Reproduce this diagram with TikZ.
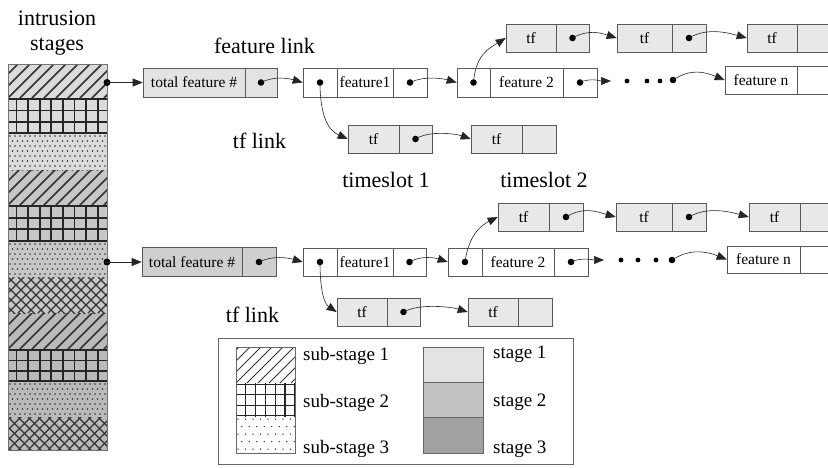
\documentclass[tikz,border=0pt]{standalone}
\usepackage{fontspec}
\setmainfont{Liberation Serif}
\usetikzlibrary{arrows.meta}

% diagonal "/" hatching inside a rectangle: x1,y1,x2,y2,line width,spacing
\newcommand\hatchband[6]{%
  \begin{scope}
    \clip (#1,#2) rectangle (#3,#4);
    \foreach \k in {-6,...,12}{\draw[line width=#5, black!80] ({#1+\k*#6},#4) -- ++(60,-60);}
  \end{scope}}
% diamond cross-hatching: x1,y1,x2,y2
\newcommand\crossband[4]{%
  \begin{scope}
    \clip (#1,#2) rectangle (#3,#4);
    \foreach \k in {-6,...,14}{%
      \draw[line width=1.4pt, black!80] ({#1+\k*10},#4) -- ++(50,-50);
      \draw[line width=1.4pt, black!80] ({#1+\k*10-50},#2) -- ++(50,50);}
  \end{scope}}
% square grid: x1,y1,x2,y2,first vertical x,vertical step,line width
\newcommand\gridband[7]{%
  \begin{scope}
    \clip (#1,#2) rectangle (#3,#4);
    \foreach \k in {0,...,9}{\draw[line width=#7, black!85] ({#5+\k*#6},#2) -- ({#5+\k*#6},#4);}
    \foreach \k in {0,...,3}{\draw[line width=#7, black!85] (#1,{#2+1.2+\k*(#4-#2-2.4)/3}) -- (#3,{#2+1.2+\k*(#4-#2-2.4)/3});}
  \end{scope}}
% dot screen: x1,y1,x2,y2,step,dot radius
\newcommand\dotband[6]{%
  \begin{scope}
    \clip (#1,#2) rectangle (#3,#4);
    \foreach \i in {0,...,20}{\foreach \j in {0,...,8}{%
      \fill[black!80] ({#1+2+\i*#5+mod(\j,2)*#5/2},{#2+2+\j*#5}) circle (#6);}}
  \end{scope}}

\begin{document}
\begin{tikzpicture}[x=1pt,y=-1pt,
  cell/.style={draw=black!65, line width=0.6pt, inner sep=0pt, minimum height=28pt,
    font=\fontsize{15.5}{18}\selectfont},
  tfcell/.style={cell, fill=black!9},
  totcell/.style={cell, fill=black!11},
  totcelldark/.style={cell, fill=black!19},
  link/.style={draw=black!85, line width=0.6pt, -{Triangle[length=10pt,width=8pt]}},
  lbl/.style={font=\fontsize{22}{26}\selectfont, anchor=base, inner sep=0pt},
  leg/.style={font=\fontsize{19}{22}\selectfont, anchor=base west, inner sep=0pt},
  ptr/.style={fill=black}]
\useasboundingbox (0,0) rectangle (828,467);
\clip (0,0) rectangle (828,467);

% ---------- intrusion stage column ----------
\fill[black!14] (8,64) rectangle (107,170);
\fill[black!22] (8,170) rectangle (107,313);
\fill[black!27] (8,313) rectangle (107,450);
\hatchband{8}{64}{107}{98}{1.6pt}{12}
\gridband{8}{98}{107}{134}{16.5}{11.6}{1.8pt}
\dotband{8}{134}{107}{170}{5}{0.85pt}
\hatchband{8}{170}{107}{205}{1.6pt}{12}
\gridband{8}{205}{107}{242}{16.5}{11.6}{1.8pt}
\dotband{8}{242}{107}{277}{5}{0.9pt}
\crossband{8}{277}{107}{313}
\hatchband{8}{313}{107}{349}{1.6pt}{12}
\gridband{8}{349}{107}{382}{16.5}{11.6}{1.8pt}
\dotband{8}{382}{107}{417}{5}{0.9pt}
\crossband{8}{417}{107}{450}
\draw[black!55, line width=0.5pt] (8,64) rectangle (107,450);
\coordinate (c1) at (107,82.5);
\coordinate (c2) at (107,262);

% ---------- labels ----------
\node[lbl] (tIntr) at (57,25) {intrusion};
\node[lbl] (tStag) at (57,50) {stages};
\node[lbl] (tFeat) at (264.5,53) {feature link};
\node[lbl] (tTf1) at (259.5,148) {tf link};
\node[lbl] (tSl1) at (386,187) {timeslot 1};
\node[lbl] (tSl2) at (544,187) {timeslot 2};
\node[lbl] (tTf2) at (252.5,322) {tf link};

% ---------- timeslot 1 lists ----------
\node[totcell, minimum width=102pt, minimum height=29pt] (r1tot) at (194,82.5) {total feature \#};
\node[totcell, minimum width=32pt, minimum height=29pt] (r1totp) at (261,82.5) {};
\node[cell, minimum width=34pt, minimum height=29pt] (r1f1a) at (320,82.5) {};
\node[cell, minimum width=56pt, minimum height=29pt] (r1f1) at (365,82.5) {feature1};
\node[cell, minimum width=34pt, minimum height=29pt] (r1f1b) at (410,82.5) {};
\node[cell, minimum width=33pt, minimum height=29pt] (r1f2a) at (473.5,82.5) {};
\node[cell, minimum width=73pt, minimum height=29pt] (r1f2) at (526.5,82.5) {feature 2};
\node[cell, minimum width=34pt, minimum height=29pt] (r1f2b) at (580,82.5) {};
\node[cell, minimum width=72pt] (r1fn) at (761,80) {feature n};
\node[cell, minimum width=36pt] (r1fnb) at (815,80) {};

\node[tfcell, minimum width=50pt] (r1u1) at (531,38) {tf};
\node[tfcell, minimum width=33pt] (r1u1p) at (572.5,38) {};
\node[tfcell, minimum width=55pt] (r1u2) at (644.5,38) {tf};
\node[tfcell, minimum width=34pt] (r1u2p) at (689,38) {};
\node[tfcell, minimum width=50pt] (r1u3) at (772,38) {tf};
\node[tfcell, minimum width=36pt] (r1u3p) at (815,38) {};

\node[tfcell, minimum width=51pt] (r1d1) at (373.5,139) {tf};
\node[tfcell, minimum width=33pt] (r1d1p) at (415.5,139) {};
\node[tfcell, minimum width=51pt] (r1d2) at (496.5,139) {tf};
\node[tfcell, minimum width=34pt] (r1d2p) at (539,139) {};

% ---------- timeslot 2 lists ----------
\node[totcelldark, minimum width=100pt, minimum height=29pt] (r2tot) at (192,262) {total feature \#};
\node[totcelldark, minimum width=34pt, minimum height=29pt] (r2totp) at (259,262) {};
\node[cell, minimum width=34pt] (r2f1a) at (320,262) {};
\node[cell, minimum width=56pt] (r2f1) at (365,262) {feature1};
\node[cell, minimum width=33pt] (r2f1b) at (409.5,262) {};
\node[cell, minimum width=34pt] (r2f2a) at (465,262) {};
\node[cell, minimum width=72pt] (r2f2) at (518,262) {feature 2};
\node[cell, minimum width=34pt] (r2f2b) at (571,262) {};
\node[cell, minimum width=73pt, minimum height=27pt] (r2fn) at (763.5,259.5) {feature n};
\node[cell, minimum width=36pt, minimum height=27pt] (r2fnb) at (818,259.5) {};

\node[tfcell, minimum width=51pt] (r2u1) at (523.5,217) {tf};
\node[tfcell, minimum width=34pt] (r2u1p) at (566,217) {};
\node[tfcell, minimum width=56pt] (r2u2) at (644,217) {tf};
\node[tfcell, minimum width=34pt] (r2u2p) at (689,217) {};
\node[tfcell, minimum width=51pt] (r2u3) at (774.5,217) {tf};
\node[tfcell, minimum width=36pt] (r2u3p) at (818,217) {};

\node[tfcell, minimum width=50pt] (r2d1) at (362,312) {tf};
\node[tfcell, minimum width=33pt] (r2d1p) at (403.5,312) {};
\node[tfcell, minimum width=50pt] (r2d2) at (493,312) {tf};
\node[tfcell, minimum width=34pt] (r2d2p) at (535,312) {};

% ---------- pointer dots ----------
\foreach \p in {c1,c2}{\fill[ptr] (\p) circle (3.5pt);}
\foreach \p in {r1totp,r1f1a,r1f1b,r1f2a,r1f2b,r1u1p,r1u2p,r1d1p,
                r2totp,r2f1a,r2f1b,r2f2a,r2f2b,r2u1p,r2u2p,r2d1p}{%
  \fill[ptr] (\p.center) circle (3.3pt);}

% ---------- links, timeslot 1 ----------
\draw[link] (c1) -- (r1tot.west);
\draw[link] (r1totp.center) .. controls +(14,-7) and +(-14,-4) .. (r1f1a.west);
\draw[link] (r1f1b.center) .. controls +(14,-7) and +(-14,-4) .. (r1f2a.west);
\draw[link] (r1f2a.center) .. controls +(2,-28) and +(-16,10) .. (r1u1.west);
\draw[link] (r1u1p.center) .. controls +(16,-9) and +(-16,-5) .. (r1u2.west);
\draw[link] (r1u2p.center) .. controls +(18,-11) and +(-18,-5) .. (r1u3.west);
\draw[link] (r1f1a.center) .. controls +(0,36) and +(-18,-8) .. (r1d1.west);
\draw[link] (r1d1p.center) .. controls +(14,-9) and +(-14,-5) .. (r1d2.west);
\coordinate (r1e) at (611,81);
\draw[link] (r1f2b.center) .. controls +(10,-5) and +(-10,0) .. (r1e);
\foreach \x in {627,647,660}{\fill[ptr] (\x,81) circle (2.4pt);}
\coordinate (r1m) at (673,80);
\fill[ptr] (r1m) circle (3.3pt);
\draw[link] (r1m) .. controls +(18,-12) and +(-20,-8) .. (r1fn.west);

% ---------- links, timeslot 2 ----------
\draw[link] (c2) -- (r2tot.west);
\draw[link] (r2totp.center) .. controls +(14,-7) and +(-14,-4) .. (r2f1a.west);
\draw[link] (r2f1b.center) .. controls +(12,-7) and +(-12,-4) .. (r2f2a.west);
\draw[link] (r2f2a.center) .. controls +(4,-28) and +(-16,8) .. (r2u1.west);
\draw[link] (r2u1p.center) .. controls +(18,-11) and +(-18,-5) .. (r2u2.west);
\draw[link] (r2u2p.center) .. controls +(18,-11) and +(-18,-5) .. (r2u3.west);
\draw[link] (r2f1a.center) .. controls +(0,30) and +(-12,-8) .. (r2d1.west);
\draw[link] (r2d1p.center) .. controls +(16,-9) and +(-16,-5) .. (r2d2.west);
\coordinate (r2e) at (604,260);
\draw[link] (r2f2b.center) .. controls +(10,-5) and +(-10,0) .. (r2e);
\foreach \x in {621,638,656}{\fill[ptr] (\x,260) circle (2.4pt);}
\coordinate (r2m) at (672,260);
\fill[ptr] (r2m) circle (3.3pt);
\draw[link] (r2m) .. controls +(18,-12) and +(-20,-8) .. (r2fn.west);

% ---------- legend ----------
\draw[black!60, line width=0.6pt] (218,338) rectangle (573,464);
\fill[white] (236,347) rectangle (295,453);
\hatchband{236}{347}{295}{383}{0.9pt}{11}
\gridband{236}{383}{295}{417}{236}{9.8}{1.3pt}
\dotband{236}{417}{295}{453}{7.5}{0.75pt}
\draw[black!60, line width=0.5pt] (236,347) rectangle (295,453);
\node[leg] (lg1) at (303,360) {sub-stage 1};
\node[leg] (lg2) at (303,407) {sub-stage 2};
\node[leg] (lg3) at (303,453) {sub-stage 3};

\fill[black!11] (423,347) rectangle (483,382);
\fill[black!24] (423,382) rectangle (483,417);
\fill[black!37] (423,417) rectangle (483,453);
\draw[black!60, line width=0.5pt] (423,347) rectangle (483,453);
\draw[black!60, line width=0.4pt] (423,382) -- (483,382) (423,417) -- (483,417);
\node[leg] (ls1) at (493,358) {stage 1};
\node[leg] (ls2) at (493,406) {stage 2};
\node[leg] (ls3) at (493,453) {stage 3};
\end{tikzpicture}
\end{document}
